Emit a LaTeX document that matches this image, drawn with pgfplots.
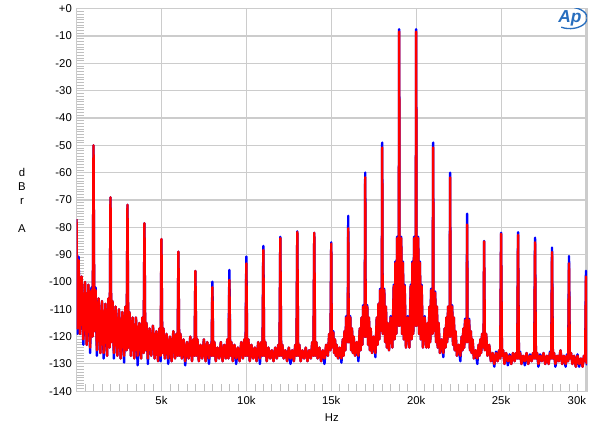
\documentclass[border=0pt]{standalone}
\usepackage{fontspec}
\setmainfont{Liberation Sans}
\usepackage{pgfplots}
\usepackage{pgfplotstable}
\pgfplotsset{compat=1.18}
\definecolor{apblue}{RGB}{40,110,190}

% f in kHz, r = red trace (dBr A), b = blue trace
\pgfplotstableread[row sep=\\]{
f r b\\
0.00 -77 -77\\ 0.05 -117 -119\\ 0.12 -92 -90.7\\ 0.20 -119 -119\\ 0.30 -98 -98\\ 0.40 -121 -123\\
0.50 -100 -100\\ 0.60 -123 -123\\ 0.70 -101 -101\\ 0.80 -124 -126\\ 0.88 -103 -102\\ 0.95 -120 -120\\
1.00 -50 -50\\ 1.05 -118 -118\\ 1.12 -103 -102\\ 1.20 -125 -127\\ 1.30 -106 -106\\ 1.40 -126 -126\\
1.50 -107 -107\\ 1.60 -126 -128\\ 1.70 -108 -108\\ 1.80 -127 -127\\ 1.88 -106 -106\\ 1.95 -124 -124\\
2.00 -69 -69\\ 2.05 -122 -122\\ 2.12 -107 -107\\ 2.20 -126 -128\\ 2.30 -109 -109\\ 2.40 -127 -127\\
2.50 -110 -110\\ 2.60 -128 -128\\ 2.70 -111 -111\\ 2.80 -127 -129.5\\ 2.88 -109 -109\\ 2.95 -125 -125\\
3.00 -71.8 -71.8\\ 3.05 -124 -124\\ 3.12 -111 -111\\ 3.20 -127 -127\\ 3.30 -113 -113\\ 3.40 -128 -128\\
3.50 -113 -113\\ 3.60 -127 -130.5\\ 3.70 -115 -115\\ 3.80 -128 -128\\ 3.88 -113 -113\\ 3.95 -126 -126\\
4.00 -78.5 -78.5\\ 4.05 -125 -125\\ 4.12 -115 -115\\ 4.20 -128 -130\\ 4.30 -117 -117\\ 4.40 -127 -127\\
4.50 -116 -116\\ 4.60 -128 -128\\ 4.70 -118 -118\\ 4.80 -129 -129\\ 4.88 -117 -117\\ 4.95 -127 -129\\
5.00 -84.3 -84.3\\ 5.05 -126 -126\\ 5.12 -117 -117\\ 5.20 -128 -128\\ 5.30 -119 -119\\ 5.40 -128 -130\\
5.50 -120 -120\\ 5.60 -129 -129\\ 5.70 -118 -118\\ 5.80 -128 -128\\ 5.88 -119 -119\\ 5.95 -127 -127\\
6.00 -88.9 -88.9\\ 6.05 -127 -127\\ 6.12 -119 -119\\ 6.20 -128 -128\\ 6.30 -121 -121\\ 6.40 -129 -130.5\\
6.50 -122 -122\\ 6.60 -128 -128\\ 6.70 -120 -120\\ 6.80 -129 -129\\ 6.88 -121 -121\\ 6.95 -127 -127\\
7.00 -96 -96\\ 7.05 -127 -127\\ 7.12 -121 -121\\ 7.20 -129 -129\\ 7.30 -123 -123\\ 7.40 -128 -128\\
7.50 -121 -121\\ 7.60 -129 -129\\ 7.70 -122 -122\\ 7.80 -128 -130\\ 7.88 -123 -123\\ 7.95 -127 -127\\
8.00 -101.9 -99.9\\ 8.05 -127 -127\\ 8.12 -122 -122\\ 8.20 -129 -129\\ 8.30 -124 -124\\ 8.40 -128 -128\\
8.50 -122 -122\\ 8.60 -129 -129\\ 8.70 -123 -123\\ 8.80 -128 -128\\ 8.88 -121 -121\\ 8.95 -128 -128\\
9.00 -99.3 -95.6\\ 9.05 -127 -127\\ 9.12 -122 -122\\ 9.20 -129 -129\\ 9.30 -123 -123\\ 9.40 -128 -130\\
9.50 -124 -124\\ 9.60 -129 -129\\ 9.70 -122 -122\\ 9.80 -128 -128\\ 9.88 -121 -121\\ 9.95 -127 -127\\
10.00 -93.2 -90.7\\ 10.05 -127 -127\\ 10.12 -121 -121\\ 10.20 -129 -129\\ 10.30 -123 -123\\ 10.40 -128 -128\\
10.50 -124 -124\\ 10.60 -129 -129\\ 10.70 -122 -122\\ 10.80 -128 -130\\ 10.88 -122 -122\\ 10.95 -127 -127\\
11.00 -88.3 -86.8\\ 11.05 -127 -127\\ 11.12 -122 -122\\ 11.20 -129 -129\\ 11.30 -124 -124\\ 11.40 -128 -128\\
11.50 -125 -125\\ 11.60 -129 -129\\ 11.70 -124 -124\\ 11.80 -128 -128\\ 11.88 -123 -123\\ 11.95 -127 -127\\
12.00 -84 -83.5\\ 12.05 -127 -127\\ 12.12 -123 -123\\ 12.20 -128 -128\\ 12.30 -125 -125\\ 12.40 -129 -129\\
12.50 -124 -124\\ 12.60 -128 -130\\ 12.70 -125 -125\\ 12.80 -129 -129\\ 12.88 -123 -123\\ 12.95 -127 -127\\
13.00 -81.7 -81.5\\ 13.05 -127 -127\\ 13.12 -123 -123\\ 13.20 -129 -129\\ 13.30 -125 -125\\ 13.40 -128 -128\\
13.50 -124 -124\\ 13.60 -129 -129\\ 13.70 -125 -125\\ 13.80 -128 -128\\ 13.88 -122 -122\\ 13.95 -127 -127\\
14.00 -82 -82\\ 14.05 -127 -127\\ 14.12 -122 -122\\ 14.20 -128 -128\\ 14.30 -124 -124\\ 14.40 -129 -129\\
14.50 -125 -125\\ 14.60 -128 -130\\ 14.70 -123 -123\\ 14.80 -127 -127\\ 14.88 -119 -119\\ 14.95 -125 -125\\
15.00 -86 -85.5\\ 15.03 -124 -124\\ 15.12 -118.5 -118\\ 15.17 -126 -126\\ 15.22 -121 -121\\ 15.27 -127 -127\\
15.32 -123 -123\\ 15.40 -128 -128\\ 15.50 -124 -124\\ 15.60 -128 -129.5\\ 15.68 -121 -121\\ 15.73 -127 -127\\
15.78 -118 -118\\ 15.83 -125 -125\\ 15.88 -113 -112.5\\ 15.97 -122 -122\\
16.00 -80.4 -75.8\\ 16.03 -122 -122\\ 16.12 -113 -112.5\\ 16.17 -125 -125\\ 16.22 -117 -117\\ 16.27 -126 -126\\
16.32 -120 -120\\ 16.40 -127 -127\\ 16.50 -122 -122\\ 16.60 -127 -129\\ 16.68 -117 -117\\ 16.73 -125 -125\\
16.78 -113 -113\\ 16.83 -123 -123\\ 16.88 -109 -108.5\\ 16.97 -120 -120\\
17.00 -61.7 -60\\ 17.03 -120 -120\\ 17.12 -109 -108.5\\ 17.17 -123 -123\\ 17.22 -113 -113\\ 17.27 -125 -125\\
17.32 -117 -117\\ 17.40 -126 -126\\ 17.50 -120 -120\\ 17.60 -126 -127.5\\ 17.68 -113 -113\\ 17.73 -123 -123\\
17.78 -108 -108\\ 17.83 -121 -121\\ 17.88 -103 -102.5\\ 17.97 -118 -118\\
18.00 -50.8 -49\\ 18.03 -119 -119\\ 18.12 -103 -102.5\\ 18.17 -122 -122\\ 18.22 -109 -109\\ 18.27 -124 -124\\
18.32 -115 -115\\ 18.40 -125 -125\\ 18.50 -113 -112.5\\ 18.60 -124 -124\\ 18.68 -101.5 -101\\ 18.73 -121 -121\\
18.78 -93 -92.5\\ 18.83 -119 -119\\ 18.88 -84 -83.4\\ 18.97 -116 -116\\
19.00 -8.4 -7.5\\ 19.03 -116 -116\\ 19.12 -84 -83.5\\ 19.17 -119 -119\\ 19.22 -93 -92.5\\ 19.27 -121 -121\\
19.32 -101.5 -101\\ 19.40 -124 -124\\ 19.50 -113 -112.5\\ 19.60 -124 -124\\ 19.68 -101.5 -101\\ 19.73 -121 -121\\
19.78 -93 -92.5\\ 19.83 -119 -119\\ 19.88 -84 -83.4\\ 19.97 -116 -116\\
20.00 -8.4 -7.5\\ 20.03 -116 -116\\ 20.12 -84 -83.5\\ 20.17 -119 -119\\ 20.22 -93 -92.5\\ 20.27 -121 -121\\
20.32 -101.5 -101\\ 20.40 -124 -124\\ 20.50 -113 -112.5\\ 20.60 -124 -124\\ 20.68 -115 -115\\ 20.73 -124 -124\\
20.78 -109 -109\\ 20.83 -122 -122\\ 20.88 -103 -102.5\\ 20.97 -119 -119\\
21.00 -50.8 -49\\ 21.03 -118 -118\\ 21.12 -104 -103.5\\ 21.17 -122 -122\\ 21.22 -109 -109\\ 21.27 -124 -124\\
21.32 -115 -115\\ 21.40 -126 -126\\ 21.50 -121 -121\\ 21.60 -126 -127.5\\ 21.68 -117 -117\\ 21.73 -124 -124\\
21.78 -113 -113\\ 21.83 -122 -122\\ 21.88 -109 -109\\ 21.97 -120 -120\\
22.00 -61.8 -60\\ 22.03 -120 -120\\ 22.12 -109 -108.5\\ 22.17 -123 -123\\ 22.22 -113 -113\\ 22.27 -125 -125\\
22.32 -118 -118\\ 22.40 -127 -127\\ 22.50 -123 -123\\ 22.60 -127 -129\\ 22.68 -120 -120\\ 22.73 -125 -125\\
22.78 -117 -117\\ 22.83 -124 -124\\ 22.88 -114 -113.5\\ 22.97 -122 -122\\
23.00 -79 -75\\ 23.03 -122 -122\\ 23.12 -114 -113.5\\ 23.17 -125 -125\\ 23.22 -118 -118\\ 23.27 -126 -126\\
23.32 -121 -121\\ 23.40 -128 -128\\ 23.50 -125 -125\\ 23.60 -128 -130\\ 23.68 -123 -123\\ 23.73 -127 -127\\
23.78 -121 -121\\ 23.83 -126 -126\\ 23.88 -119 -119\\ 23.97 -124 -124\\
24.00 -85.2 -85\\ 24.05 -125 -125\\ 24.12 -119 -119\\ 24.20 -127 -127\\ 24.30 -123 -123\\ 24.40 -129 -129\\
24.50 -126 -126\\ 24.60 -130 -131\\ 24.70 -126 -125.5\\ 24.80 -129 -129\\ 24.88 -125 -125\\ 24.95 -128 -128\\
25.00 -82.4 -82\\ 25.05 -127 -127\\ 25.12 -125 -125\\ 25.20 -130 -130\\ 25.30 -126 -126\\ 25.40 -129 -130.5\\
25.50 -127 -126.5\\ 25.60 -130 -130\\ 25.70 -126 -126\\ 25.80 -129 -129\\ 25.88 -126 -126\\ 25.95 -128 -128\\
26.00 -82.8 -81.8\\ 26.05 -128 -128\\ 26.12 -126 -125.5\\ 26.20 -130 -130\\ 26.30 -127 -127\\ 26.40 -129 -130.5\\
26.50 -126 -126\\ 26.60 -130 -130\\ 26.70 -127 -126.5\\ 26.80 -129 -129\\ 26.88 -126 -126\\ 26.95 -128 -128\\
27.00 -85.5 -83.8\\ 27.05 -128 -128\\ 27.12 -126 -126\\ 27.20 -130 -131\\ 27.30 -127 -126.5\\ 27.40 -129 -129\\
27.50 -126 -126\\ 27.60 -130 -130\\ 27.70 -127 -127\\ 27.80 -130 -130\\ 27.88 -126 -125.5\\ 27.95 -128 -128\\
28.00 -89.1 -87.4\\ 28.05 -128 -128\\ 28.12 -126 -126\\ 28.20 -130 -131\\ 28.30 -127 -127\\ 28.40 -129 -129\\
28.50 -125 -125\\ 28.60 -130 -130\\ 28.70 -127 -127\\ 28.80 -130 -131\\ 28.88 -127 -126.5\\ 28.95 -129 -129\\
29.00 -93.2 -90.5\\ 29.05 -128 -128\\ 29.12 -126 -126\\ 29.20 -130 -130\\ 29.30 -127 -127\\ 29.40 -131 -131\\
29.50 -127 -126.5\\ 29.60 -130 -131\\ 29.70 -128 -128\\ 29.80 -131 -131\\ 29.88 -127 -127\\ 29.95 -129 -129\\
30.00 -98 -95.9\\ 30.03 -129 -129\\ 30.06 -130 -130.5\\
}\spec

\begin{document}
\begin{tikzpicture}
\begin{axis}[
  width=382.9pt, height=287pt, scale only axis,
  xmin=0, xmax=30.06, ymin=-140, ymax=0,
  xtick={0,5,...,30},
  xticklabels={,5k,10k,15k,20k,25k,\makebox[0pt][r]{30k}},
  ytick={-140,-130,...,0},
  yticklabels={-140,-130,-120,-110,-100,-90,-80,-70,-60,-50,-40,-30,-20,-10,+0},
  minor x tick num=9, minor y tick num=9,
  tick align=inside, xtick pos=bottom, ytick pos=left,
  major tick length=0pt, minor tick length=5.5pt,
  every minor tick/.append style={gray!50, line width=0.5pt},
  grid=major, grid style={gray!40, line width=0.8pt},
  axis line style={gray!40, line width=0.8pt},
  tick label style={font=\fontsize{8.5}{10}\selectfont},
  label style={font=\fontsize{8.5}{10.5}\selectfont},
  xlabel={Hz},
  xlabel style={at={(axis description cs:0.5,0)}, anchor=center, yshift=-19.5pt},
  ylabel={d\\B\\r\\[10.5pt]A},
  ylabel style={rotate=-90, align=center, at={(axis description cs:0,0.5)}, anchor=center, xshift=-40.9pt},
]
\addplot[blue, line width=1.8pt, line join=round] table[x=f, y=b]{\spec};
\addplot[red, line width=1.8pt, line join=round] table[x=f, y=r]{\spec};
\node[text=apblue, font=\fontsize{13}{13}\selectfont\bfseries\itshape] (logo) at (axis cs:29.05,-3.4) {Ap};
\draw[apblue, line width=1pt] ([shift={(-120:13pt and 8pt)}]logo.center) arc[start angle=-120, end angle=75, x radius=13pt, y radius=8pt];
\end{axis}
\path ([shift={(-57.4pt,-30.5pt)}]current axis.south west) rectangle ([shift={(9.75pt,6.5pt)}]current axis.north east);
\end{tikzpicture}
\end{document}
